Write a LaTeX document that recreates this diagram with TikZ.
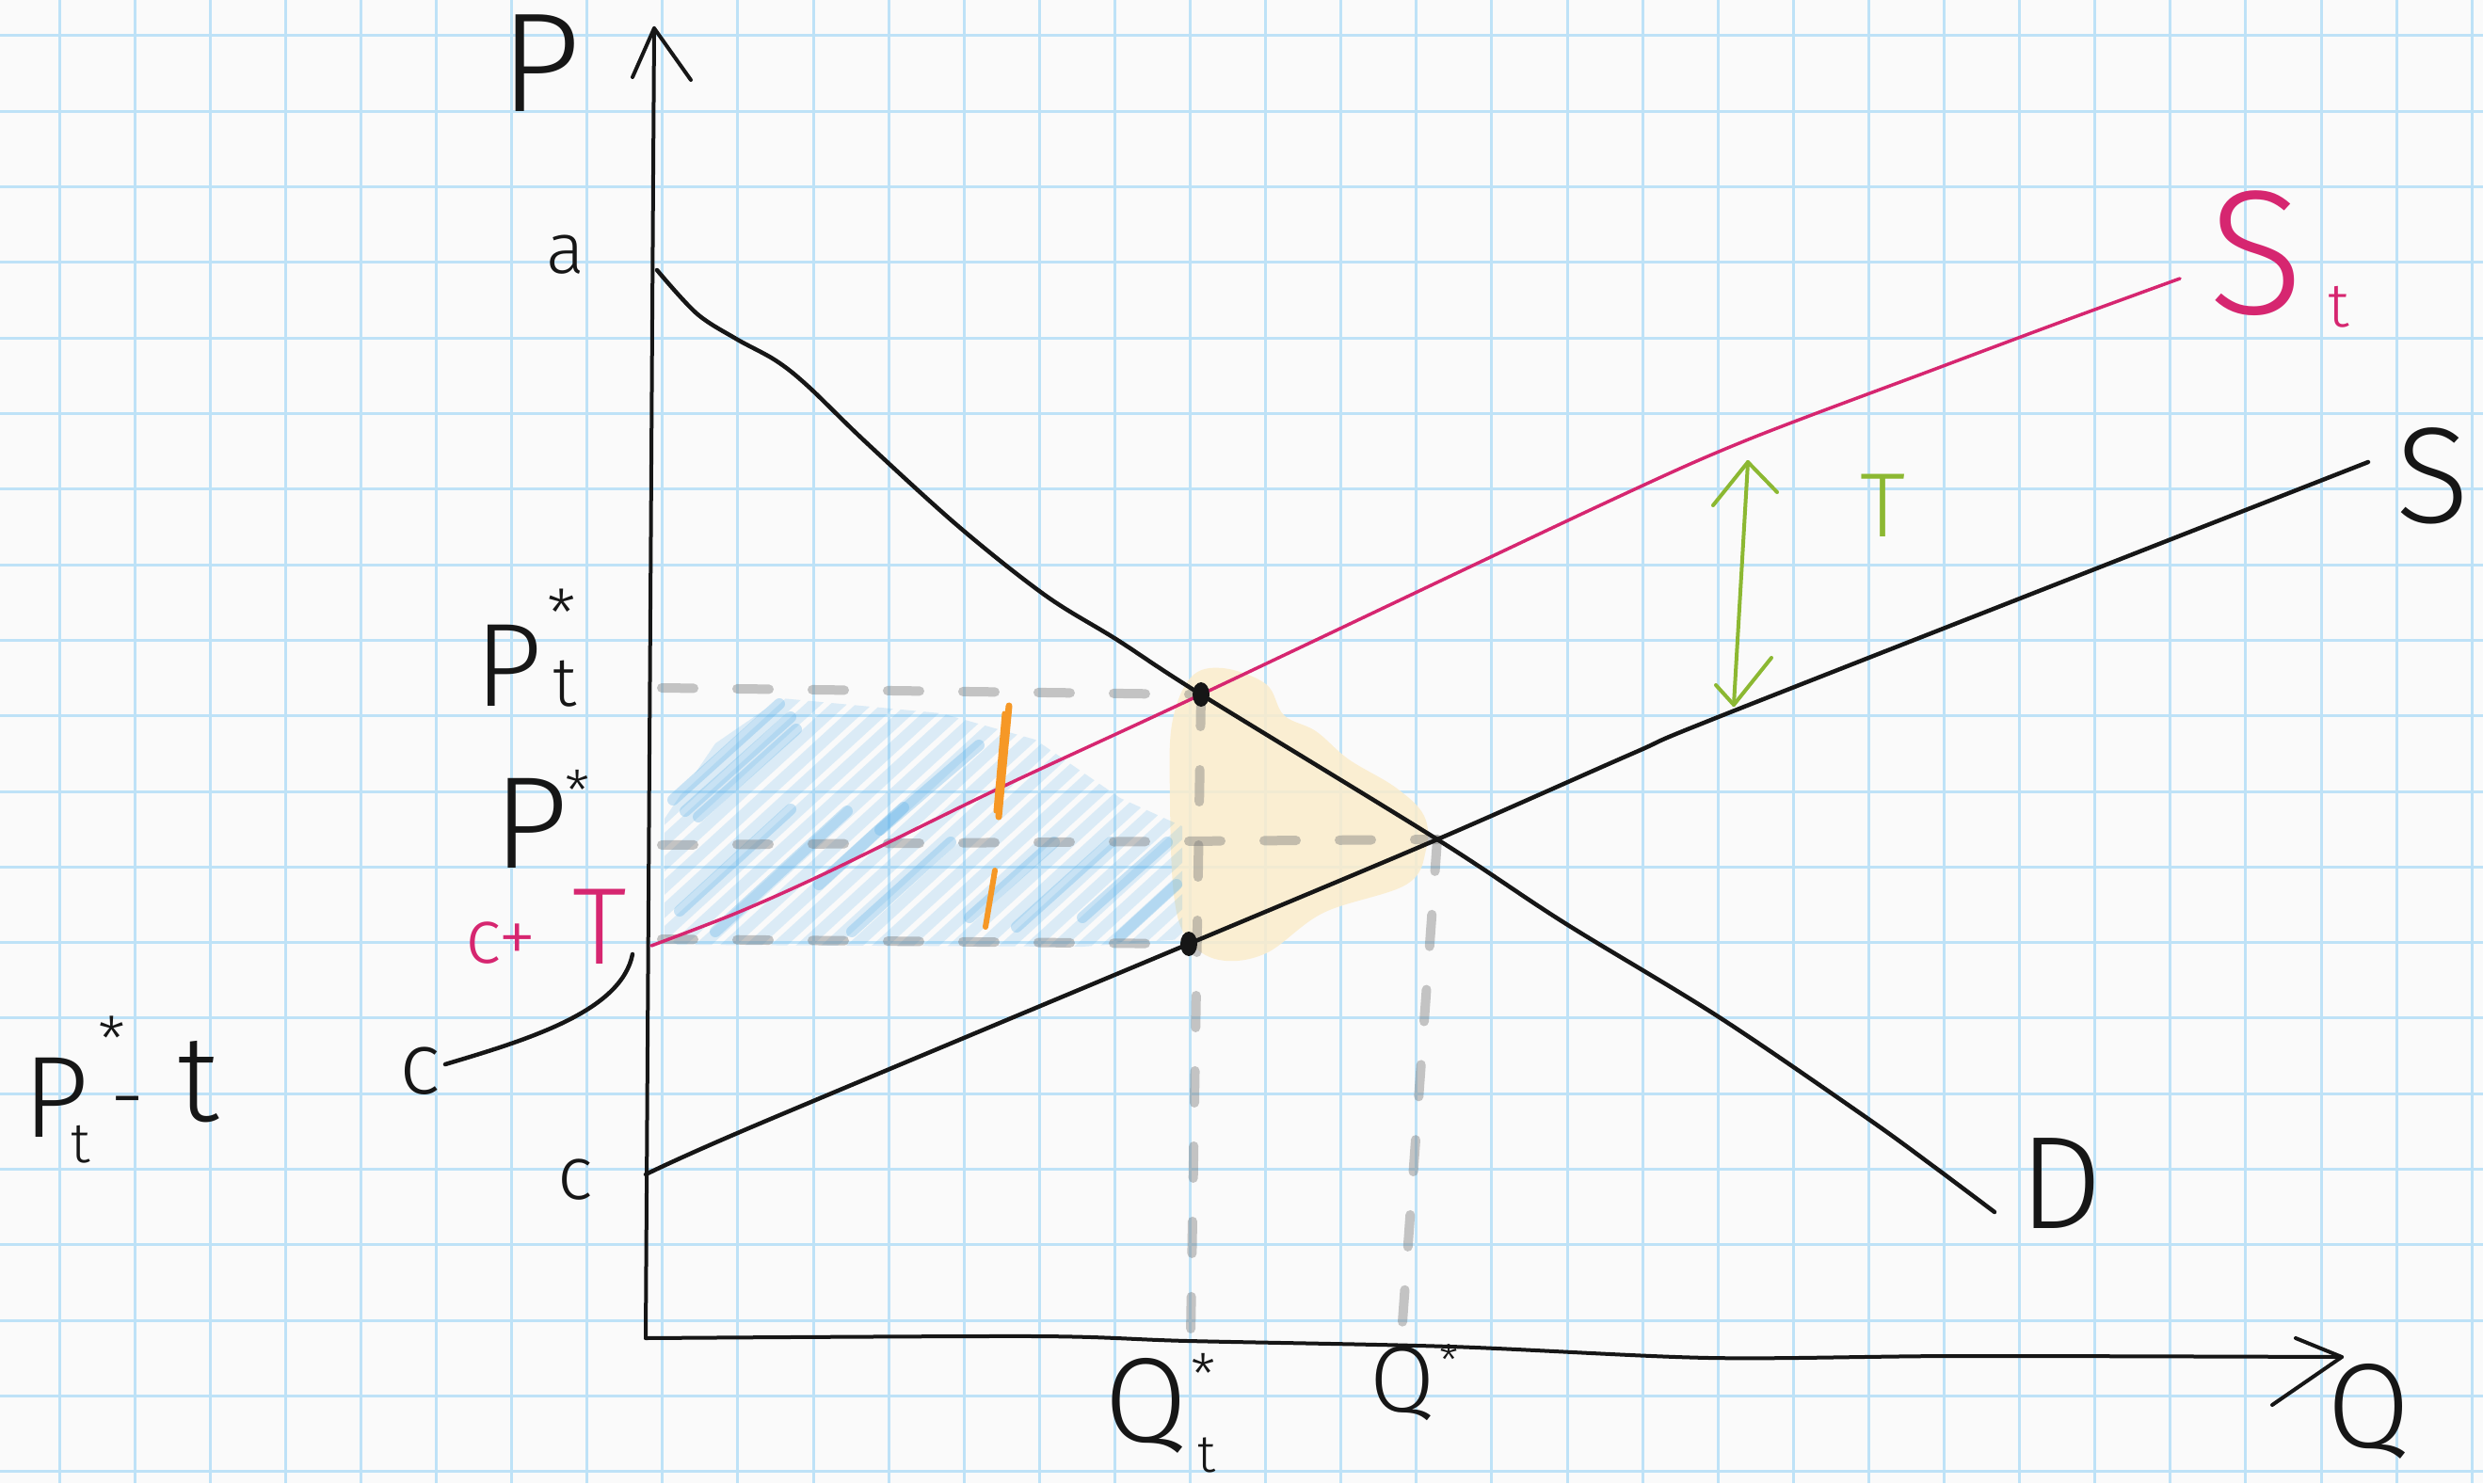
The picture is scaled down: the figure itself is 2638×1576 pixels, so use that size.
\documentclass[tikz,border=0pt]{standalone}
\usepackage{fontspec}
\setmainfont{Fira Sans Light}
\definecolor{paper}{RGB}{250,250,250}
\definecolor{gridc}{RGB}{190,226,247}
\definecolor{ink}{RGB}{22,22,22}
\definecolor{pinkc}{RGB}{214,38,112}
\definecolor{greenc}{RGB}{140,184,50}
\definecolor{orangec}{RGB}{246,152,38}
\definecolor{beige}{RGB}{251,236,204}
\definecolor{hatchc}{RGB}{95,178,232}
\definecolor{pencil}{RGB}{120,120,120}
\tikzset{
  gridline/.style={draw=gridc, line width=3},
  curve/.style={draw=ink, line width=4.5, line cap=round, line join=round},
  axisline/.style={draw=ink, line width=4, line cap=round, line join=round},
  pinkline/.style={draw=pinkc, line width=3.5, line cap=round},
  pencildash/.style={draw=pencil, opacity=0.42, line width=10, line cap=round, dash pattern=on 34 off 46},
  hatch/.style={draw=hatchc, opacity=0.2, line width=12, line cap=round},
  hatchdark/.style={draw=hatchc, opacity=0.32, line width=12, line cap=round},
  lab/.style={inner sep=0, outer sep=0, text=ink},
}
\newcommand\fs[1]{\fontsize{#1}{#1}\selectfont}
\begin{document}
\begin{tikzpicture}[x=1pt,y=-1pt]
\useasboundingbox (0,0) rectangle (2638,1576);
\fill[paper] (0,0) rectangle (2638,1576);
% grid
\foreach \k in {0,...,32} \draw[gridline] ({63+80.1*\k},0) -- ({63+80.1*\k},1576);
\foreach \k in {0,...,19} \draw[gridline] (0,{38+80.3*\k}) -- (2638,{38+80.3*\k});

% key points
\coordinate (O) at (686,1422);
\coordinate (Ytip) at (695,30);
\coordinate (Xtip) at (2488,1442);
\coordinate (Et) at (1276,738);
\coordinate (E) at (1527,892);
\coordinate (Es) at (1263,1003);
\coordinate (PtAx) at (703,731);
\coordinate (PAx) at (703,898);
\coordinate (PsAx) at (703,998);
\coordinate (QtAx) at (1265,1418);
\coordinate (QAx) at (1490,1405);

% deadweight-loss blob
\fill[beige, opacity=0.85] plot[smooth cycle, tension=0.6] coordinates {
 (1265,720) (1299,710) (1345,727) (1364,760) (1398,777) (1433,807) (1483,837)
 (1513,867) (1515,903) (1494,940) (1406,970) (1345,1013) (1295,1020) (1261,997)
 (1247,950) (1243,850) (1245,770)};

% blue hatching
\begin{scope}
\clip (706,995) -- (706,870) -- (760,790) -- (830,742) -- (1000,758) -- (1100,786) -- (1190,848) -- (1256,878) -- (1256,998) -- (1150,1006) -- (720,1004) -- cycle;
\foreach \s in {0,...,34} \draw[hatch] ({470+\s*27},1060) -- ++(360,-330);
\end{scope}
\foreach \a/\b/\c/\d in {715/850/828/748, 728/862/840/762, 742/868/846/775, 722/968/840/860, 760/990/900/862, 870/940/960/858, 905/990/1010/895, 1030/975/1120/895, 1080/985/1180/895, 1150/975/1240/895, 1190/995/1250/940, 935/882/1040/792}
  \draw[hatchdark] (\a,\b) -- (\c,\d);

% pencil dashed guide lines
\draw[pencildash] (PtAx) -- (Et);
\draw[pencildash] (PAx) -- (E);
\draw[pencildash] (PsAx) -- (Es);
\draw[pencildash] (Et) -- (QtAx);
\draw[pencildash] (E) -- (QAx);

% axes
\draw[axisline] (O) -- (690,800) -- (Ytip);
\draw[axisline] (672,82) -- (Ytip) -- (734,85);
\draw[axisline] plot[smooth] coordinates {(O) (1100,1420) (1262,1425) (1541,1431) (1816,1443) (2081,1441) (Xtip)};
\draw[axisline] (2439,1422) -- (Xtip) -- (2414,1493);

% demand
\draw[curve] plot[smooth, tension=0.55] coordinates {(698,287) (740,333) (782,360) (824,383) (858,410) (920,470) (1019,560) (1111,633) (1187,680) (Et) (E) (1661,980) (1825,1080) (1982,1187) (2055,1240) (2119,1288)};
% supply
\draw[curve] plot[smooth, tension=0.5] coordinates {(686,1248) (800,1197) (Es) (E) (1736,800) (1843,755) (2516,491)};
% taxed supply
\draw[pinkline] plot[smooth, tension=0.5] coordinates {(692,1005) (783,970) (879,927) (1063,837) (Et) (1700,537) (1855,468) (2059,391) (2190,342) (2316,296)};

% dots
\fill[ink] (Et) ellipse[x radius=9, y radius=13];
\fill[ink] (Es) ellipse[x radius=9, y radius=13];

% orange marks
\draw[draw=orangec, line width=7, line cap=round] (1072,750) -- (1061,868);
\draw[draw=orangec, line width=5, line cap=round] (1067,758) -- (1058,862);
\draw[draw=orangec, line width=6, line cap=round] (1057,925) -- (1047,985);

% green tax arrow
\coordinate (Ttop) at (1857,491);
\coordinate (Tbot) at (1842,749);
\draw[draw=greenc, line width=4, line cap=round] (Ttop) -- (Tbot);
\draw[draw=greenc, line width=4, line cap=round, line join=round] (1820,537) -- (Ttop) -- (1888,523);
\draw[draw=greenc, line width=4, line cap=round, line join=round] (1823,728) -- (Tbot) -- (1882,699);

% connector c+T -> c
\coordinate (cta) at (672,1014);
\coordinate (ctb) at (473,1131);
\draw[curve] (cta) .. controls (660,1075) and (560,1105) .. (ctb);

% labels
\node[lab, font=\fs{150}] (lP) at (574,67) {P};
\node[lab, font=\fs{76}] (la) at (601,271) {a};
\node[lab, font=\fs{126}] (lPt) at (540,707) {P};
\node[lab, font=\fs{70}] (lPtstar) at (597,652) {*};
\node[lab, font=\fs{74}] (lPtsub) at (600,727) {t};
\node[lab, font=\fs{139}] (lPs) at (564,875) {P};
\node[lab, font=\fs{60}] (lPsstar) at (614,840) {*};
\node[lab, text=pinkc, font=\fs{82}] (lcplus) at (532,1002) {c+};
\node[lab, text=pinkc, font=\fs{116}] (lT) at (637,985) {T};
\node[lab, font=\fs{93}] (lcleft) at (446,1138) {c};
\node[lab, font=\fs{123}] (lPl) at (60,1166) {P};
\node[lab, font=\fs{66}] (lPlstar) at (119,1104) {*};
\node[lab, font=\fs{60}] (lPlsub) at (86,1216) {t};
\node[lab, font=\fs{90}] (lminus) at (136,1180) {-};
\node[lab, font=\fs{130}] (ltax) at (211,1150) {t};
\node[lab, font=\fs{80}] (lc) at (611,1254) {c};
\node[lab, font=\fs{128}] (lQt) at (1218,1494) {Q};
\node[lab, font=\fs{60}] (lQtstar) at (1279,1460) {*};
\node[lab, font=\fs{56}] (lQtsub) at (1282,1546) {t};
\node[lab, font=\fs{100}] (lQs) at (1490,1470) {Q};
\node[lab, font=\fs{46}] (lQsstar) at (1540,1446) {*};
\node[lab, font=\fs{128}] (lQ) at (2517,1500) {Q};
\node[lab, font=\fs{140}] (lD) at (2190,1258) {D};
\node[lab, font=\fs{145}] (lS) at (2585,506) {S};
\node[lab, text=pinkc, font=\fs{188}] (lSt) at (2397,269) {S};
\node[lab, text=pinkc, font=\fs{66}] (lStsub) at (2485,326) {t};
\node[lab, text=greenc, font=\fs{97}] (lTg) at (2000,537) {T};
\end{tikzpicture}
\end{document}
